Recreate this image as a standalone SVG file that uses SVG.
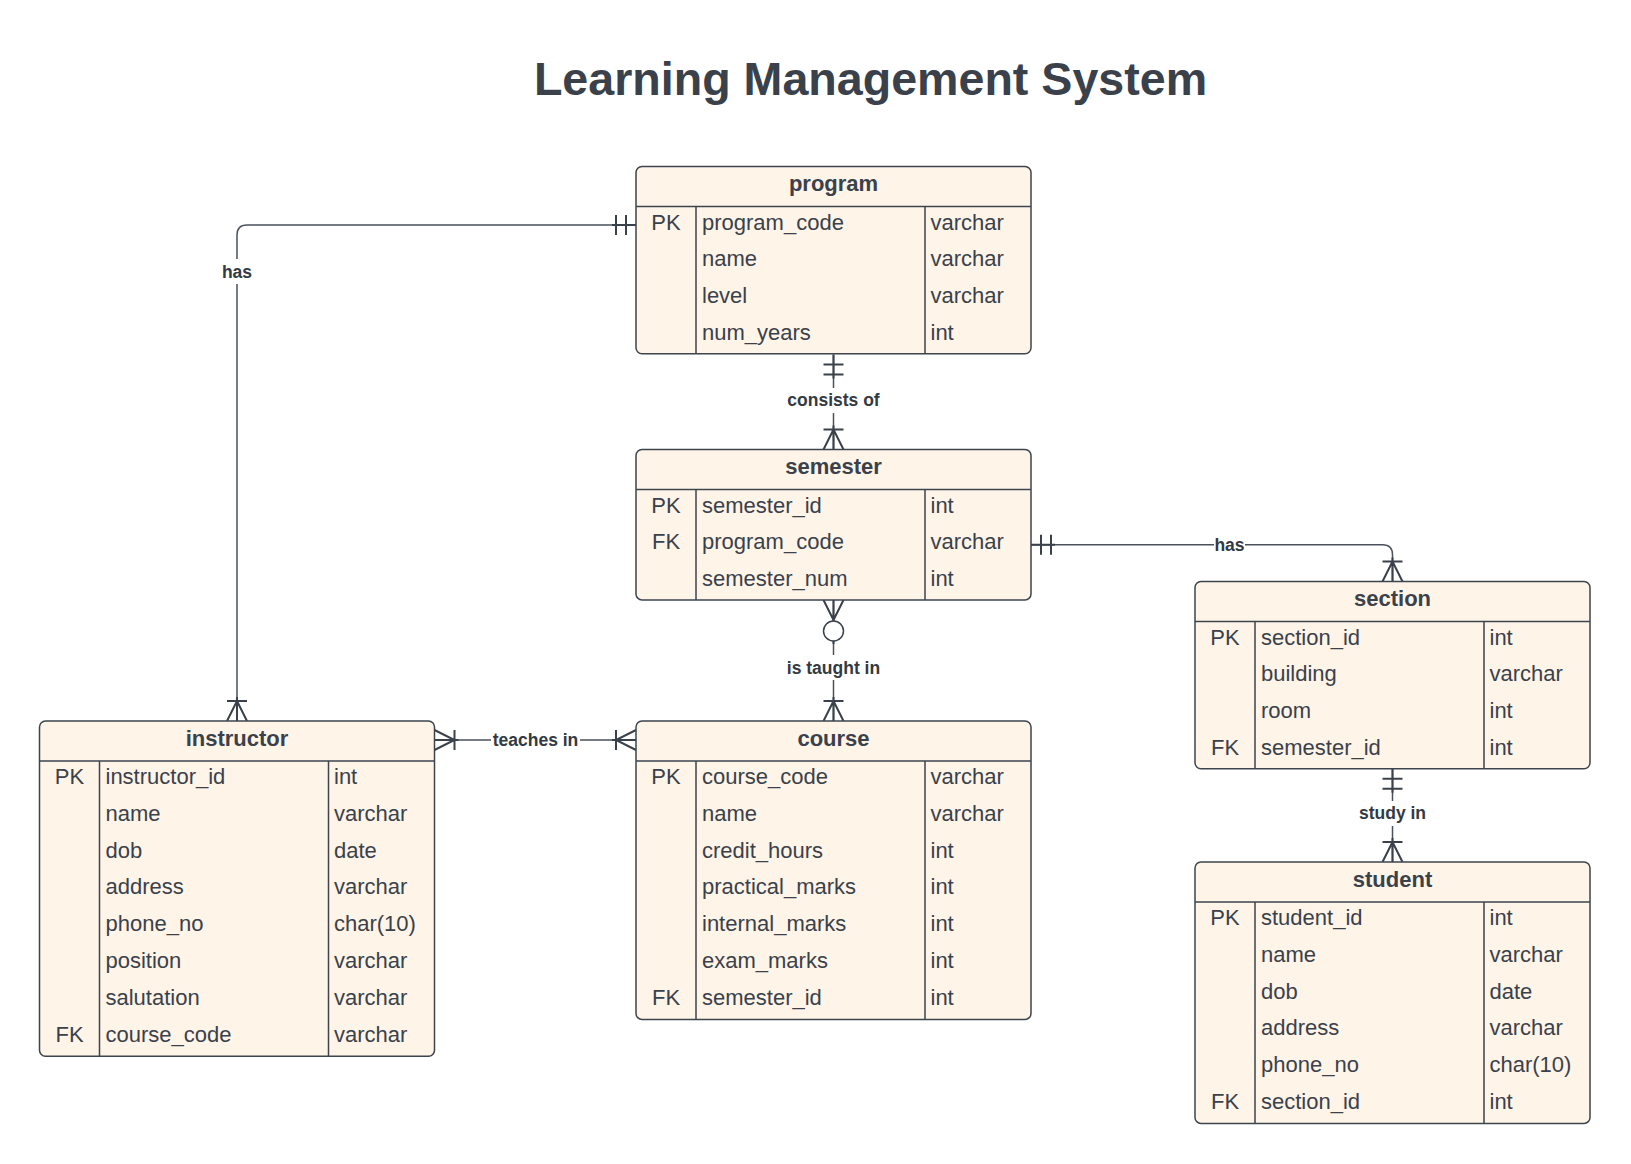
<svg xmlns="http://www.w3.org/2000/svg" width="1631" height="1164" viewBox="0 0 1631 1164">
<style>
.box{fill:#fef4e8;stroke:#3d444d;stroke-width:1.5}
.ln{stroke:#3d444d;stroke-width:1.5;fill:none}
.hd{font-family:"Liberation Sans",Arial,sans-serif;font-weight:bold;font-size:22px;fill:#3a414a;text-anchor:middle}
.tx{font-family:"Liberation Sans",Arial,sans-serif;font-size:22px;fill:#3a414a}
.key{text-anchor:middle}
.title{font-family:"Liberation Sans",Arial,sans-serif;font-weight:bold;font-size:46.6px;fill:#3a414a;text-anchor:middle}
.lbl{font-family:"Liberation Sans",Arial,sans-serif;font-weight:bold;font-size:17.5px;fill:#333a42;text-anchor:middle}
.conn{stroke:#4a515b;stroke-width:1.5;fill:none}
.mk{stroke:#3a414a;stroke-width:2;fill:none}
.mkc{stroke:#3a414a;stroke-width:1.5;fill:#ffffff}
.bg{fill:#ffffff}
</style>
<defs>
<g id="mand-one"><path class="mk" d="M0,0H-24M-10,-10V10M-20,-10V10"/></g>
<g id="mand-many"><path class="mk" d="M0,0H-24M-20,-10V10M0,-10L-20,0L0,10"/></g>
<g id="opt-many"><path class="mk" d="M0,0H-21M0,-10L-20,0L0,10"/><circle class="mkc" cx="-31" cy="0" r="10"/><path class="mk" d="M-41,0H-44"/></g>
</defs>
<rect width="1631" height="1164" fill="#ffffff"/>
<text class="title" x="870.5" y="95">Learning Management System</text>

<g id="connectors">
<path class="conn" d="M636,224.9H247Q237,224.9 237,234.9V721"/>
<path class="conn" d="M833.5,354.5V449.5"/>
<path class="conn" d="M1031,544.7H1382.5Q1392.5,544.7 1392.5,554.7V581.5"/>
<path class="conn" d="M833.5,600V721"/>
<path class="conn" d="M434.5,740H636"/>
<path class="conn" d="M1392.5,768.7V862"/>
<use href="#mand-one" transform="translate(636,224.9)"/>
<use href="#mand-many" transform="translate(237,721) rotate(90)"/>
<use href="#mand-one" transform="translate(833.5,354.5) rotate(-90)"/>
<use href="#mand-many" transform="translate(833.5,449.5) rotate(90)"/>
<use href="#mand-one" transform="translate(1031,544.7) rotate(180)"/>
<use href="#mand-many" transform="translate(1392.5,581.5) rotate(90)"/>
<use href="#opt-many" transform="translate(833.5,600) rotate(-90)"/>
<use href="#mand-many" transform="translate(833.5,721) rotate(90)"/>
<use href="#mand-many" transform="translate(434.5,740) rotate(180)"/>
<use href="#mand-many" transform="translate(636,740)"/>
<use href="#mand-one" transform="translate(1392.5,768.7) rotate(-90)"/>
<use href="#mand-many" transform="translate(1392.5,862) rotate(90)"/>
<rect class="bg" x="221" y="259" width="32" height="25"/>
<text class="lbl" x="237" y="277.5">has</text>
<rect class="bg" x="786" y="388" width="95" height="25"/>
<text class="lbl" x="833.5" y="406">consists of</text>
<rect class="bg" x="1214" y="535" width="31" height="20"/>
<text class="lbl" x="1229.5" y="550.5">has</text>
<rect class="bg" x="785" y="655" width="97" height="25"/>
<text class="lbl" x="833.5" y="674">is taught in</text>
<rect class="bg" x="491" y="730" width="89" height="20"/>
<text class="lbl" x="535.5" y="746">teaches in</text>
<rect class="bg" x="1355" y="801" width="75" height="25"/>
<text class="lbl" x="1392.5" y="819">study in</text>
</g>

<g id="program">
<rect class="box" x="636" y="166.5" width="395" height="187.2" rx="6"/>
<path class="ln" d="M636,206.5H1031M696,206.5V353.7M925,206.5V353.7"/>
<text class="hd" x="833.5" y="191">program</text>
<text class="tx key" x="666" y="229.5">PK</text>
<text class="tx" x="702" y="229.5">program_code</text><text class="tx" x="930.5" y="229.5">varchar</text>
<text class="tx" x="702" y="266.3">name</text><text class="tx" x="930.5" y="266.3">varchar</text>
<text class="tx" x="702" y="303.1">level</text><text class="tx" x="930.5" y="303.1">varchar</text>
<text class="tx" x="702" y="339.9">num_years</text><text class="tx" x="930.5" y="339.9">int</text>
</g>

<g id="semester">
<rect class="box" x="636" y="449.5" width="395" height="150.4" rx="6"/>
<path class="ln" d="M636,489.5H1031M696,489.5V599.9M925,489.5V599.9"/>
<text class="hd" x="833.5" y="474">semester</text>
<text class="tx key" x="666" y="512.5">PK</text>
<text class="tx" x="702" y="512.5">semester_id</text><text class="tx" x="930.5" y="512.5">int</text>
<text class="tx key" x="666" y="549.3">FK</text>
<text class="tx" x="702" y="549.3">program_code</text><text class="tx" x="930.5" y="549.3">varchar</text>
<text class="tx" x="702" y="586.1">semester_num</text><text class="tx" x="930.5" y="586.1">int</text>
</g>

<g id="course">
<rect class="box" x="636" y="721" width="395" height="298.4" rx="6"/>
<path class="ln" d="M636,761H1031M696,761V1019.4M925,761V1019.4"/>
<text class="hd" x="833.5" y="745.5">course</text>
<text class="tx key" x="666" y="784">PK</text>
<text class="tx" x="702" y="784">course_code</text><text class="tx" x="930.5" y="784">varchar</text>
<text class="tx" x="702" y="820.8">name</text><text class="tx" x="930.5" y="820.8">varchar</text>
<text class="tx" x="702" y="857.6">credit_hours</text><text class="tx" x="930.5" y="857.6">int</text>
<text class="tx" x="702" y="894.4">practical_marks</text><text class="tx" x="930.5" y="894.4">int</text>
<text class="tx" x="702" y="931.2">internal_marks</text><text class="tx" x="930.5" y="931.2">int</text>
<text class="tx" x="702" y="968">exam_marks</text><text class="tx" x="930.5" y="968">int</text>
<text class="tx key" x="666" y="1004.8">FK</text>
<text class="tx" x="702" y="1004.8">semester_id</text><text class="tx" x="930.5" y="1004.8">int</text>
</g>

<g id="instructor">
<rect class="box" x="39.5" y="721" width="395" height="335.2" rx="6"/>
<path class="ln" d="M39.5,761H434.5M99.5,761V1056.2M328.5,761V1056.2"/>
<text class="hd" x="237" y="745.5">instructor</text>
<text class="tx key" x="69.5" y="784">PK</text>
<text class="tx" x="105.5" y="784">instructor_id</text><text class="tx" x="334" y="784">int</text>
<text class="tx" x="105.5" y="820.8">name</text><text class="tx" x="334" y="820.8">varchar</text>
<text class="tx" x="105.5" y="857.6">dob</text><text class="tx" x="334" y="857.6">date</text>
<text class="tx" x="105.5" y="894.4">address</text><text class="tx" x="334" y="894.4">varchar</text>
<text class="tx" x="105.5" y="931.2">phone_no</text><text class="tx" x="334" y="931.2">char(10)</text>
<text class="tx" x="105.5" y="968">position</text><text class="tx" x="334" y="968">varchar</text>
<text class="tx" x="105.5" y="1004.8">salutation</text><text class="tx" x="334" y="1004.8">varchar</text>
<text class="tx key" x="69.5" y="1041.6">FK</text>
<text class="tx" x="105.5" y="1041.6">course_code</text><text class="tx" x="334" y="1041.6">varchar</text>
</g>

<g id="section">
<rect class="box" x="1195" y="581.5" width="395" height="187.2" rx="6"/>
<path class="ln" d="M1195,621.5H1590M1255,621.5V768.7M1484,621.5V768.7"/>
<text class="hd" x="1392.5" y="606">section</text>
<text class="tx key" x="1225" y="644.5">PK</text>
<text class="tx" x="1261" y="644.5">section_id</text><text class="tx" x="1489.5" y="644.5">int</text>
<text class="tx" x="1261" y="681.3">building</text><text class="tx" x="1489.5" y="681.3">varchar</text>
<text class="tx" x="1261" y="718.1">room</text><text class="tx" x="1489.5" y="718.1">int</text>
<text class="tx key" x="1225" y="754.9">FK</text>
<text class="tx" x="1261" y="754.9">semester_id</text><text class="tx" x="1489.5" y="754.9">int</text>
</g>

<g id="student">
<rect class="box" x="1195" y="862" width="395" height="261.4" rx="6"/>
<path class="ln" d="M1195,902H1590M1255,902V1123.4M1484,902V1123.4"/>
<text class="hd" x="1392.5" y="886.5">student</text>
<text class="tx key" x="1225" y="925">PK</text>
<text class="tx" x="1261" y="925">student_id</text><text class="tx" x="1489.5" y="925">int</text>
<text class="tx" x="1261" y="961.8">name</text><text class="tx" x="1489.5" y="961.8">varchar</text>
<text class="tx" x="1261" y="998.6">dob</text><text class="tx" x="1489.5" y="998.6">date</text>
<text class="tx" x="1261" y="1035.4">address</text><text class="tx" x="1489.5" y="1035.4">varchar</text>
<text class="tx" x="1261" y="1072.2">phone_no</text><text class="tx" x="1489.5" y="1072.2">char(10)</text>
<text class="tx key" x="1225" y="1109">FK</text>
<text class="tx" x="1261" y="1109">section_id</text><text class="tx" x="1489.5" y="1109">int</text>
</g>
</svg>
